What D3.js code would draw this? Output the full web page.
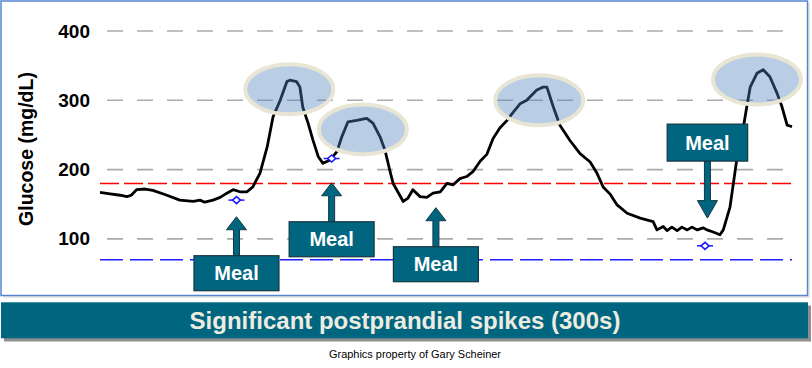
<!DOCTYPE html>
<html>
<head>
<meta charset="utf-8">
<script src="https://cdn.jsdelivr.net/npm/d3@7"></script>
<style>
  html, body { margin: 0; padding: 0; background: #ffffff; }
  svg { display: block; font-family: "Liberation Sans", Arial, sans-serif; }
</style>
</head>
<body>
<svg id="chart" width="812" height="368"></svg>
<script>
// ---------- data ----------
const times = [0,21,42,56,65,76,94,110,135,166,194,208,218,235,250,264,277,291,306,318,
  333,348,360,375,389,395,409,416,422,433,443,454,464,479,493,503,516,534,555,568,
  583,593,603,610,631,641,651,666,680,693,708,722,735,749,763,776,791,805,818,832,
  847,860,874,888,895,909,922,930,943,957,978,999,1020,1034,1047,1061,1076,1097,1124,1151,
  1159,1172,1180,1190,1201,1211,1222,1232,1243,1255,1263,1276,1290,1297,1311,1325,1332,1346,1353,1367,
  1380,1394,1409,1419,1430,1440];
const glucose = [167,165,163,161,163,171,172,170,164,156,154,156,153,156,160,166,171,168,168,175,
  195,233,276,300,327,329,327,319,290,267,243,219,209,214,226,247,269,271,274,267,
  247,228,199,180,154,159,171,161,160,166,168,180,178,187,190,197,212,222,245,260,
  271,283,295,300,305,315,319,319,291,264,242,223,211,195,175,165,149,137,130,125,
  113,118,112,117,112,117,113,117,113,116,113,110,106,113,146,214,233,291,319,339,
  344,334,310,291,264,262];

const yTicks = [100, 200, 300, 400];
const highTarget = 180;
const lowTarget = 70;

const spikeTimes = [394, 547, 914, 1367];
const spikeValues = [316, 258, 300, 330];

const markerTimes = [284, 482, 1259];
const markerValues = [156, 216, 90];

const mealTimes = [284, 482, 699, 1264];
const mealTipValues = [132, 181, 145, 130];
const mealDirections = ["up", "up", "up", "down"];
const mealLabel = "Meal";

const yTitle = "Glucose (mg/dL)";
const bannerText = "Significant postprandial spikes (300s)";
const creditText = "Graphics property of Gary Scheiner";

// ---------- scales ----------
const x = d3.scaleLinear().domain([0, 1440]).range([100, 792]);
const y = d3.scaleLinear().domain([0, 400]).range([308.2, 31]);

const svg = d3.select("#chart");
const teal = "#006680";

// frame
svg.append("rect").attr("x", 3).attr("y", 3).attr("width", 807).attr("height", 295)
  .attr("fill", "#e9e9e4");
svg.append("rect").attr("x", 1).attr("y", 1).attr("width", 806.5).attr("height", 294.5)
  .attr("fill", "#ffffff").attr("stroke", "#5585d4").attr("stroke-width", 1.5);

// gridlines
svg.append("g").selectAll("line").data(yTicks).join("line")
  .attr("x1", 107).attr("x2", 792)
  .attr("y1", d => y(d)).attr("y2", d => y(d))
  .attr("stroke", "#ababab").attr("stroke-width", 1.6)
  .attr("stroke-dasharray", "16,14");

// target lines
svg.append("line").attr("x1", 100).attr("x2", 792)
  .attr("y1", y(highTarget)).attr("y2", y(highTarget))
  .attr("stroke", "#ff0000").attr("stroke-width", 1.5).attr("stroke-dasharray", "19,5");
svg.append("line").attr("x1", 100).attr("x2", 792)
  .attr("y1", y(lowTarget)).attr("y2", y(lowTarget))
  .attr("stroke", "#1f1fff").attr("stroke-width", 1.4).attr("stroke-dasharray", "23,7");

// y axis
const yAxis = d3.axisLeft(y).tickValues(yTicks).tickSize(0).tickPadding(17);
const gy = svg.append("g").attr("transform", "translate(107,0)").call(yAxis);
gy.select(".domain").remove();
gy.selectAll("text")
  .attr("font-family", "'Liberation Sans', Arial, sans-serif")
  .attr("font-size", 19).attr("font-weight", "bold").attr("fill", "#000");

svg.append("text")
  .attr("transform", "translate(33,149) rotate(-90)")
  .attr("text-anchor", "middle")
  .attr("font-size", 19.5).attr("font-weight", "bold").attr("fill", "#000")
  .text(yTitle);

// glucose trace
const pts = times.map((t, i) => [t, glucose[i]]);
svg.append("path").datum(pts)
  .attr("fill", "none").attr("stroke", "#000").attr("stroke-width", 2.8)
  .attr("stroke-linejoin", "round")
  .attr("d", d3.line().x(d => x(d[0])).y(d => y(d[1])));

// spike highlights
svg.append("g").selectAll("ellipse").data(spikeTimes).join("ellipse")
  .attr("cx", d => x(d)).attr("cy", (d, i) => y(spikeValues[i]))
  .attr("rx", 44).attr("ry", 25)
  .attr("fill", "rgba(79,129,189,0.4)")
  .attr("stroke", "#e8e5d4").attr("stroke-width", 4);

// blue diamond markers
const mk = svg.append("g").selectAll("g").data(markerTimes).join("g")
  .attr("transform", (d, i) => `translate(${x(d)},${y(markerValues[i])})`);
mk.append("line").attr("x1", -8).attr("x2", 8).attr("stroke", "#1a1aff").attr("stroke-width", 1.5);
mk.append("path").attr("d", "M-4,0L0,-3.5L4,0L0,3.5Z")
  .attr("fill", "#fff").attr("stroke", "#1a1aff").attr("stroke-width", 1.6);

// meal callouts
const boxW = 85, boxH = 35;
mealTimes.forEach((t, i) => {
  const cx = x(t), ty = y(mealTipValues[i]);
  const up = mealDirections[i] === "up";
  const len = up ? 39 : 57;
  const head = up ? 13 : 17.5;
  const s = up ? 1 : -1;
  const base = ty + s * len;
  const neck = ty + s * head;
  const arrow = `M${cx},${ty}L${cx + 10},${neck}L${cx + 3},${neck}L${cx + 3},${base}` +
    `L${cx - 3},${base}L${cx - 3},${neck}L${cx - 10},${neck}Z`;
  svg.append("path").attr("d", arrow)
    .attr("fill", teal).attr("stroke", "#163540").attr("stroke-width", 1);
  const bw = up ? boxW : 80.5, bh = up ? boxH : 37;
  const by = up ? base : base - bh;
  svg.append("rect").attr("x", cx - bw / 2).attr("y", by)
    .attr("width", bw).attr("height", bh)
    .attr("fill", teal).attr("stroke", "#163540").attr("stroke-width", 1.2);
  svg.append("text").attr("x", cx).attr("y", by + bh / 2 + 7)
    .attr("text-anchor", "middle").attr("fill", "#fff")
    .attr("font-size", 20).attr("font-weight", "bold")
    .text(mealLabel);
});

// banner
svg.append("rect").attr("x", 4).attr("y", 305.5).attr("width", 807).attr("height", 36)
  .attr("fill", "#8f8f8f");
svg.append("rect").attr("x", 1).attr("y", 302.3).attr("width", 807).attr("height", 36)
  .attr("fill", teal);
svg.append("text").attr("x", 405).attr("y", 328.5)
  .attr("text-anchor", "middle").attr("fill", "#eeece1")
  .attr("font-size", 24).attr("font-weight", "bold")
  .text(bannerText);

// credit
svg.append("text").attr("x", 329).attr("y", 358)
  .attr("font-size", 10.5).attr("fill", "#000")
  .attr("textLength", 172).attr("lengthAdjust", "spacingAndGlyphs")
  .text(creditText);
</script>
</body>
</html>
